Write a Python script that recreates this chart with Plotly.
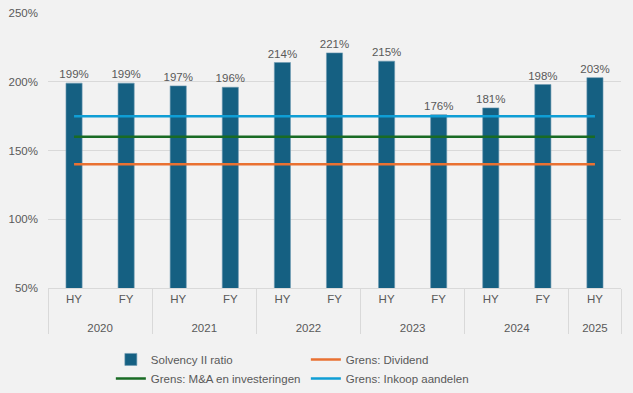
import plotly.graph_objects as go

years = ["2020", "2020", "2021", "2021", "2022", "2022", "2023", "2023", "2024", "2024", "2025"]
periods = ["HY", "FY", "HY", "FY", "HY", "FY", "HY", "FY", "HY", "FY", "HY"]
solvency = [199, 199, 197, 196, 214, 221, 215, 176, 181, 198, 203]
grens_dividend = [140] * 11
grens_ma = [160] * 11
grens_inkoop = [175] * 11
y_ticks = [50, 100, 150, 200, 250]
y_tick_labels = ["50%", "100%", "150%", "200%", "250%"]

# extra leading line break spaces the year row further from the HY/FY row
x = [["<br>" + y for y in years], periods]
font_color = "#595959"
FONT = "Liberation Sans"

fig = go.Figure()
fig.add_trace(go.Bar(
    x=x, y=solvency, name="Solvency II ratio",
    marker=dict(color="#156082", line=dict(color="#6f9bb2", width=0.6)),
    text=[f"{v}%" for v in solvency], textposition="outside",
    constraintext="none",
    textfont=dict(size=11.5, color=font_color, family=FONT),
    cliponaxis=False,
))
fig.add_trace(go.Scatter(x=x, y=grens_dividend, name="Grens: Dividend", mode="lines",
                         line=dict(color="#E97132", width=2.5)))
fig.add_trace(go.Scatter(x=x, y=grens_ma, name="Grens: M&A en investeringen", mode="lines",
                         line=dict(color="#196B24", width=2.5)))
fig.add_trace(go.Scatter(x=x, y=grens_inkoop, name="Grens: Inkoop aandelen", mode="lines",
                         line=dict(color="#0F9ED5", width=2.5)))

fig.update_layout(
    width=633, height=393,
    margin=dict(l=48, r=12, t=13, b=105, autoexpand=False),
    paper_bgcolor="#f2f2f2", plot_bgcolor="#f2f2f2",
    font=dict(family=FONT, size=11.5, color=font_color),
    bargap=0.69,
    showlegend=True,
    legend=dict(orientation="h", x=0.45, xanchor="center", y=-0.207, yanchor="top",
                entrywidth=150, traceorder="normal", tracegroupgap=0,
                font=dict(size=11.5, color=font_color, family=FONT)),
)
fig.update_yaxes(range=[50, 250], tickvals=y_ticks, ticktext=y_tick_labels,
                 showgrid=True, gridcolor="#d9d9d9", gridwidth=1, automargin=False,
                 zeroline=False, showline=False, ticks="", ticklabelstandoff=9,
                 tickfont=dict(size=11.5, color=font_color, family=FONT))
fig.update_xaxes(type="multicategory", showline=True, linecolor="#d9d9d9", linewidth=1,
                 showdividers=True, dividercolor="#d9d9d9", dividerwidth=1,
                 ticks="", automargin=False,
                 tickfont=dict(size=11.5, color=font_color, family=FONT), showgrid=False)

fig.write_html("out.html", config={"displayModeBar": False},
               post_script="document.body.style.margin='0';document.body.style.overflow='hidden';")
